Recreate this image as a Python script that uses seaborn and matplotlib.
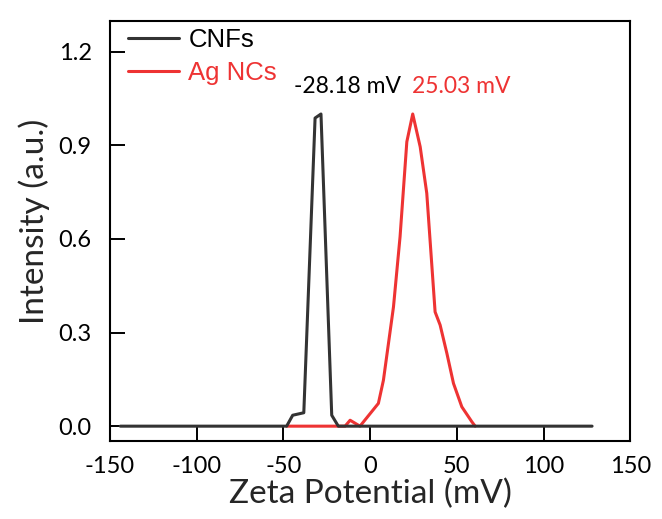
import numpy as np
import pandas as pd
import matplotlib
matplotlib.use("Agg")
import matplotlib.pyplot as plt
import seaborn as sns

# zeta potential distributions
cnf_x = [-144, -48.1, -44.6, -38.2, -31.7, -28.3, -22.1, -18.3, 128]
cnf_y = [0, 0, 0.035, 0.043, 0.987, 1.0, 0.035, 0, 0]

ag_x = [-48, -14.4, -11.5, -5.8, 4.8, 7.7, 13.5, 17.3, 21.2, 24.6, 28.9,
        32.7, 37.5, 40.4, 44.3, 48.1, 52.9, 58.7, 60.6]
ag_y = [0, 0, 0.019, 0, 0.073, 0.147, 0.382, 0.607, 0.911, 1.0, 0.895,
        0.746, 0.366, 0.324, 0.233, 0.137, 0.062, 0.014, 0]

series_names = ["CNFs", "Ag NCs"]
series_colors = ["#333333", "#ee3333"]
peak_labels = ["-28.18 mV", "25.03 mV"]
x_ticks = [-150, -100, -50, 0, 50, 100, 150]
y_ticks = [0.0, 0.3, 0.6, 0.9, 1.2]

sns.set_theme(style="ticks")
plt.rcParams["font.family"] = ["Lato", "DejaVu Sans"]

df = pd.concat([
    pd.DataFrame({"x": cnf_x, "y": cnf_y, "sample": series_names[0]}),
    pd.DataFrame({"x": ag_x, "y": ag_y, "sample": series_names[1]}),
])

fig = plt.figure(figsize=(6.62, 5.19), dpi=100)
ax = fig.add_axes([0.166, 0.150, 0.786, 0.809])

# red first so the black baseline sits on top of it
sns.lineplot(data=df[df["sample"] == "Ag NCs"], x="x", y="y", color=series_colors[1],
             lw=2.2, ax=ax, label=None, zorder=2, sort=False)
sns.lineplot(data=df[df["sample"] == "CNFs"], x="x", y="y", color=series_colors[0],
             lw=2.2, ax=ax, label=None, zorder=3, sort=False)

ax.set_xlim(-150, 150)
ax.set_ylim(-0.048, 1.297)
ax.set_xticks(x_ticks)
ax.set_xticklabels([str(t) for t in x_ticks])
ax.set_yticks(y_ticks)
ax.set_yticklabels([f"{t:.1f}" for t in y_ticks])
ax.tick_params(direction="in", length=11, width=1.4, labelsize=17, colors="black",
               top=False, right=False)
ax.tick_params(axis="x", pad=11)
ax.tick_params(axis="y", pad=13)
for s in ax.spines.values():
    s.set_linewidth(1.5)
    s.set_color("black")

ax.set_xlabel("Zeta Potential (mV)", fontsize=24, labelpad=1)
ax.set_ylabel("Intensity (a.u.)", fontsize=24)
ax.yaxis.set_label_coords(-0.115, 0.524)

# peak values
ax.text(-13, 1.087, peak_labels[0], color="black", fontsize=16.5, ha="center", va="center")
ax.text(52.5, 1.087, peak_labels[1], color=series_colors[1], fontsize=16.5, ha="center", va="center")

handles = [plt.Line2D([], [], color=c, lw=2.2) for c in series_colors]
leg = ax.legend(handles, series_names, loc="upper left", bbox_to_anchor=(0.0, 1.027),
                frameon=False, handlelength=2.0, handletextpad=0.35, labelspacing=0.35,
                borderaxespad=0.3, prop={"family": "Liberation Sans", "size": 18.5})
for txt, c in zip(leg.get_texts(), ["black", series_colors[1]]):
    txt.set_color(c)

fig.savefig("out.png", dpi=100)
